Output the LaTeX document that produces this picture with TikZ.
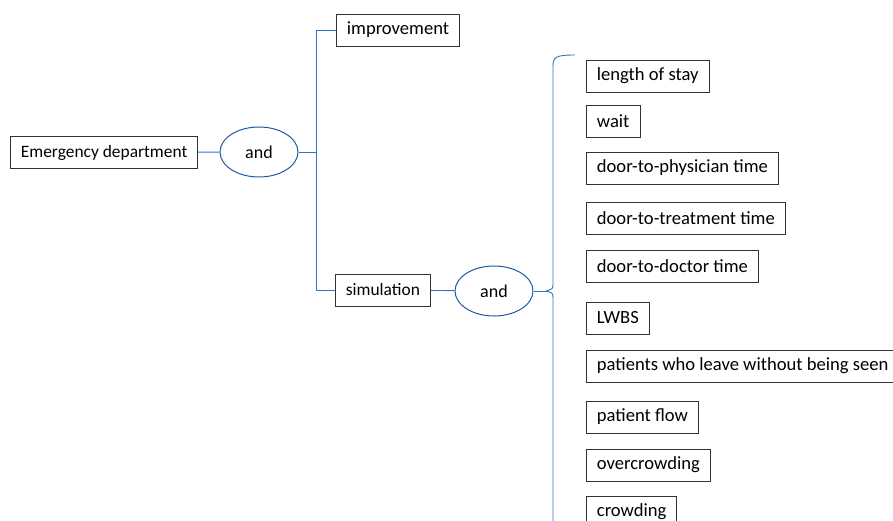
\documentclass[tikz,border=0pt]{standalone}
\usepackage{fontspec}
\setmainfont{Carlito}
\usetikzlibrary{shapes.geometric}
\definecolor{linkblue}{RGB}{46,117,200}
\definecolor{ovalblue}{RGB}{30,90,160}
\begin{document}
\begin{tikzpicture}[x=1pt,y=-1pt,
  box/.style={draw=black!80, line width=0.8pt, anchor=west, minimum height=32pt, inner xsep=10.5pt, font=\fontsize{18.6}{20}\selectfont},
  oval/.style={ellipse, draw=ovalblue, line width=1pt, minimum width=78pt, minimum height=50pt, inner sep=0pt, font=\fontsize{18}{20}\selectfont},
  link/.style={draw=linkblue, line width=0.9pt}]
\useasboundingbox (0,0) rectangle (893,521);
\node[box, font=\fontsize{17.4}{20}\selectfont] (ed) at (10,152.5){Emergency department};
\node[oval] (and1) at (259,152){and};
\node[box] (imp) at (336,30){improvement};
\node[box, font=\fontsize{17.4}{20}\selectfont] (sim) at (335,290){simulation};
\node[oval] (and2) at (494,291){and};
% terms joined by the second and
\node[box] (t0) at (586,76){length of stay};
\node[box] (t1) at (586,121.5){wait};
\node[box] (t2) at (586,168){door-to-physician time};
\node[box] (t3) at (586,218){door-to-treatment time};
\node[box] (t4) at (586,266){door-to-doctor time};
\node[box] (t5) at (586,318){LWBS};
\node[box] (t6) at (586,366){patients who leave without being seen};
\node[box] (t7) at (586,417){patient flow};
\node[box] (t8) at (586,465){overcrowding};
\node[box] (t9) at (586,512){crowding};
\coordinate (tip) at (546,291);
\coordinate (top) at (575,55);
\coordinate (bot) at (553,530);
\draw[link](ed) -- (and1);
\draw[link](and1.east) -- ++(18,0);
\draw[link](imp.west) -| (316,290) -- (sim.west);
\draw[link](sim) -- (and2);
\draw[link](and2.east) -- (tip);
\draw[link](top) .. controls (556,55) and (553,57) .. (553,66) -- (553,283) .. controls (553,289) .. (tip);
\draw[link](tip) .. controls (553,293) .. (553,299) -- (bot);
\end{tikzpicture}
\end{document}
